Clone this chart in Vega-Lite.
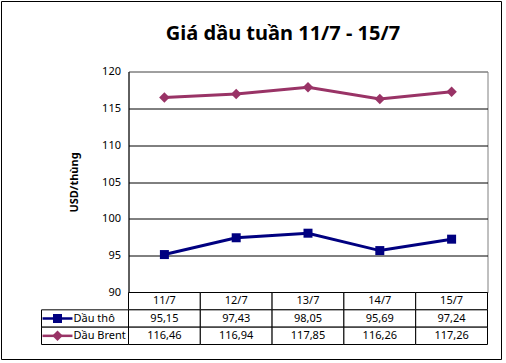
{
  "$schema": "https://vega.github.io/schema/vega-lite/v6.json",
  "background": "white",
  "padding": {"left": 0.5, "top": 0.5, "right": 0, "bottom": 0},
  "bounds": "flush",
  "spacing": 0,
  "datasets": {
    "gia": [
      {"ngay": "11/7", "loai": "Dầu thô", "gia": 95.15},
      {"ngay": "12/7", "loai": "Dầu thô", "gia": 97.43},
      {"ngay": "13/7", "loai": "Dầu thô", "gia": 98.05},
      {"ngay": "14/7", "loai": "Dầu thô", "gia": 95.69},
      {"ngay": "15/7", "loai": "Dầu thô", "gia": 97.24},
      {"ngay": "11/7", "loai": "Dầu Brent", "gia": 116.46},
      {"ngay": "12/7", "loai": "Dầu Brent", "gia": 116.94},
      {"ngay": "13/7", "loai": "Dầu Brent", "gia": 117.85},
      {"ngay": "14/7", "loai": "Dầu Brent", "gia": 116.26},
      {"ngay": "15/7", "loai": "Dầu Brent", "gia": 117.26}
    ]
  },
  "vconcat": [
    {
      "width": 359,
      "height": 221,
      "title": {"text": "Giá dầu tuần 11/7 - 15/7", "fontSize": 20, "fontWeight": "bold", "color": "black", "anchor": "middle", "frame": "bounds", "offset": 22, "dx": 5},
      "data": {"name": "gia"},
      "encoding": {
        "x": {"field": "ngay", "type": "nominal", "sort": ["11/7", "12/7", "13/7", "14/7", "15/7"], "scale": {"type": "point", "padding": 0.5}, "axis": null},
        "y": {
          "field": "gia", "type": "quantitative",
          "scale": {"domain": [90, 120], "nice": false, "zero": false},
          "axis": {
            "values": [90, 95, 100, 105, 110, 115, 120],
            "title": "USD/thùng", "titleFontSize": 11, "titleFontWeight": "bold", "titleColor": "black", "titlePadding": 22,
            "labelFontSize": 11, "labelColor": "black", "labelPadding": 8,
            "ticks": false, "tickSize": 0, "domainColor": "black",
            "grid": true, "gridOpacity": 1,
            "gridColor": {"condition": {"test": "datum.value >= 120", "value": "#808080"}, "value": "black"}
          }
        },
        "color": {"field": "loai", "type": "nominal", "scale": {"domain": ["Dầu thô", "Dầu Brent"], "range": ["#000080", "#993366"]}, "legend": null}
      },
      "layer": [
        {"mark": {"type": "line", "strokeWidth": 3}},
        {
          "mark": {"type": "point", "filled": true, "opacity": 1},
          "encoding": {
            "shape": {"field": "loai", "type": "nominal", "scale": {"domain": ["Dầu thô", "Dầu Brent"], "range": ["square", "diamond"]}, "legend": null},
            "size": {"field": "loai", "type": "nominal", "scale": {"domain": ["Dầu thô", "Dầu Brent"], "range": [81, 110]}, "legend": null}
          }
        }
      ]
    },
    {
      "width": 359,
      "height": 52,
      "view": {"stroke": null},
      "data": {"name": "gia"},
      "resolve": {"scale": {"x": "independent", "y": "independent"}},
      "layer": [
        {
          "transform": [{"aggregate": [{"op": "count", "as": "n"}], "groupby": ["ngay"]}],
          "mark": {"type": "rect", "fill": "white", "stroke": "black", "strokeWidth": 1},
          "encoding": {
            "x": {"field": "ngay", "type": "nominal", "scale": {"domain": ["11/7", "12/7", "13/7", "14/7", "15/7"], "paddingInner": 0, "paddingOuter": 0}, "axis": null},
            "y": {"datum": "hdr", "type": "nominal", "scale": {"domain": ["hdr", "Dầu thô", "Dầu Brent"], "paddingInner": 0, "paddingOuter": 0}, "axis": null}
          }
        },
        {
          "transform": [{"aggregate": [{"op": "count", "as": "n"}], "groupby": ["ngay"]}],
          "mark": {"type": "text", "fontSize": 11, "color": "black"},
          "encoding": {
            "x": {"field": "ngay", "type": "nominal", "scale": {"domain": ["11/7", "12/7", "13/7", "14/7", "15/7"], "paddingInner": 0, "paddingOuter": 0}, "axis": null},
            "y": {"datum": "hdr", "type": "nominal", "scale": {"domain": ["hdr", "Dầu thô", "Dầu Brent"], "paddingInner": 0, "paddingOuter": 0}, "axis": null},
            "text": {"field": "ngay", "type": "nominal"}
          }
        },
        {
          "mark": {"type": "rect", "fill": "white", "stroke": "black", "strokeWidth": 1},
          "encoding": {
            "x": {"field": "ngay", "type": "nominal", "scale": {"domain": ["11/7", "12/7", "13/7", "14/7", "15/7"], "paddingInner": 0, "paddingOuter": 0}, "axis": null},
            "y": {"field": "loai", "type": "nominal", "scale": {"domain": ["hdr", "Dầu thô", "Dầu Brent"], "paddingInner": 0, "paddingOuter": 0}, "axis": null}
          }
        },
        {
          "mark": {"type": "text", "fontSize": 11, "color": "black"},
          "encoding": {
            "x": {"field": "ngay", "type": "nominal", "scale": {"domain": ["11/7", "12/7", "13/7", "14/7", "15/7"], "paddingInner": 0, "paddingOuter": 0}, "axis": null},
            "y": {"field": "loai", "type": "nominal", "scale": {"domain": ["hdr", "Dầu thô", "Dầu Brent"], "paddingInner": 0, "paddingOuter": 0}, "axis": null},
            "text": {"field": "gia", "type": "quantitative", "format": ".2f"}
          }
        },
        {
          "transform": [{"aggregate": [{"op": "count", "as": "n"}], "groupby": ["loai"]}],
          "mark": {"type": "rect", "fill": "white", "stroke": "black", "strokeWidth": 1},
          "encoding": {
            "x": {"datum": 0, "type": "quantitative", "scale": {"domain": [0, 1], "range": [-87, 0], "nice": false, "zero": false}, "axis": null},
            "x2": {"datum": 1},
            "y": {"field": "loai", "type": "nominal", "scale": {"domain": ["hdr", "Dầu thô", "Dầu Brent"], "paddingInner": 0, "paddingOuter": 0}, "axis": null}
          }
        },
        {
          "transform": [{"aggregate": [{"op": "count", "as": "n"}], "groupby": ["loai"]}],
          "mark": {"type": "rule", "strokeWidth": 2.5},
          "encoding": {
            "x": {"datum": 0.012, "type": "quantitative", "scale": {"domain": [0, 1], "range": [-87, 0], "nice": false, "zero": false}, "axis": null},
            "x2": {"datum": 0.356},
            "y": {"field": "loai", "type": "nominal", "scale": {"domain": ["hdr", "Dầu thô", "Dầu Brent"], "paddingInner": 0, "paddingOuter": 0}, "axis": null},
            "color": {"field": "loai", "type": "nominal", "scale": {"domain": ["Dầu thô", "Dầu Brent"], "range": ["#000080", "#993366"]}, "legend": null}
          }
        },
        {
          "transform": [{"aggregate": [{"op": "count", "as": "n"}], "groupby": ["loai"]}],
          "mark": {"type": "point", "filled": true, "opacity": 1},
          "encoding": {
            "x": {"datum": 0.184, "type": "quantitative", "scale": {"domain": [0, 1], "range": [-87, 0], "nice": false, "zero": false}, "axis": null},
            "y": {"field": "loai", "type": "nominal", "scale": {"domain": ["hdr", "Dầu thô", "Dầu Brent"], "paddingInner": 0, "paddingOuter": 0}, "axis": null},
            "color": {"field": "loai", "type": "nominal", "scale": {"domain": ["Dầu thô", "Dầu Brent"], "range": ["#000080", "#993366"]}, "legend": null},
            "shape": {"field": "loai", "type": "nominal", "scale": {"domain": ["Dầu thô", "Dầu Brent"], "range": ["square", "diamond"]}, "legend": null},
            "size": {"field": "loai", "type": "nominal", "scale": {"domain": ["Dầu thô", "Dầu Brent"], "range": [25, 36]}, "legend": null}
          }
        },
        {
          "transform": [{"aggregate": [{"op": "count", "as": "n"}], "groupby": ["loai"]}],
          "mark": {"type": "text", "fontSize": 11, "color": "black", "align": "left"},
          "encoding": {
            "x": {"datum": 0.368, "type": "quantitative", "scale": {"domain": [0, 1], "range": [-87, 0], "nice": false, "zero": false}, "axis": null},
            "y": {"field": "loai", "type": "nominal", "scale": {"domain": ["hdr", "Dầu thô", "Dầu Brent"], "paddingInner": 0, "paddingOuter": 0}, "axis": null},
            "text": {"field": "loai", "type": "nominal"}
          }
        },
        {
          "transform": [{"aggregate": [{"op": "count", "as": "n"}]}],
          "mark": {"type": "rect", "fill": null, "fillOpacity": 0, "stroke": "black", "strokeWidth": 1},
          "encoding": {
            "x": {"datum": 0, "type": "quantitative", "scale": {"domain": [0, 1], "range": [-127, 373], "nice": false, "zero": false}, "axis": null},
            "x2": {"datum": 1},
            "y": {"datum": 0, "type": "quantitative", "scale": {"domain": [0, 1], "range": [-291, 67], "nice": false, "zero": false}, "axis": null},
            "y2": {"datum": 1}
          }
        }
      ]
    }
  ],
  "config": {
    "font": "Noto Sans",
    "view": {"stroke": "#808080"},
    "locale": {"number": {"decimal": ",", "thousands": ".", "grouping": [3], "currency": ["", ""]}}
  }
}
